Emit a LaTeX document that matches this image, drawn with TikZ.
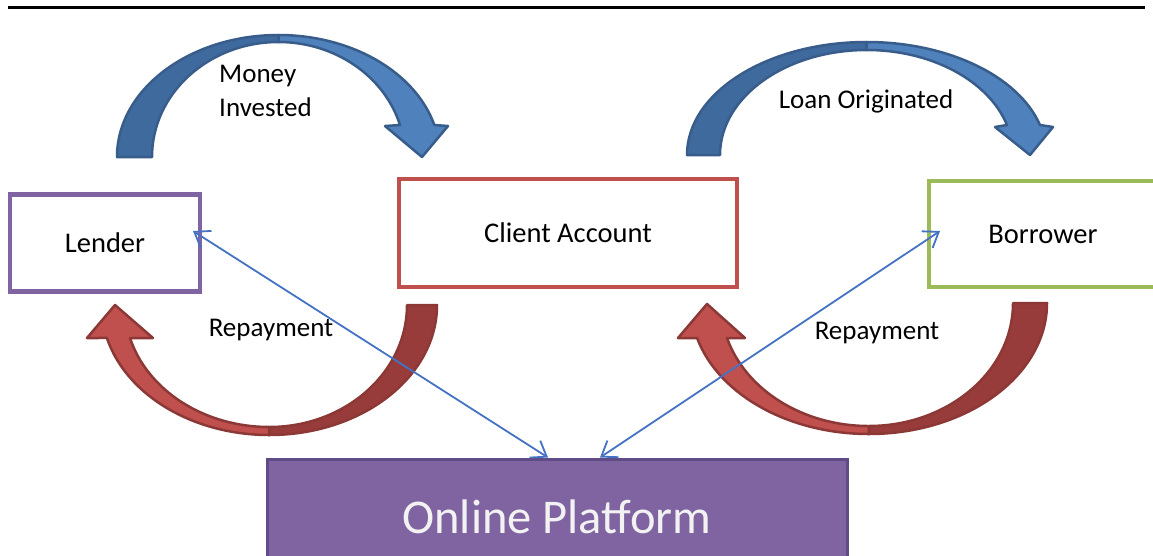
\documentclass[tikz,border=0pt]{standalone}
\usepackage{fontspec}
\setmainfont{Carlito}
\usetikzlibrary{arrows.meta}
\definecolor{bluefill}{HTML}{4F81BD}
\definecolor{bluedark}{HTML}{3F6A9E}
\definecolor{blueline}{HTML}{385D8A}
\definecolor{redfill}{HTML}{C0504D}
\definecolor{reddark}{HTML}{973C3A}
\definecolor{redline}{HTML}{8C3836}
\definecolor{purp}{HTML}{8064A2}
\definecolor{purpdark}{HTML}{5F4B86}
\definecolor{grn}{HTML}{9BBB59}
\definecolor{conn}{HTML}{4472C4}
\definecolor{ptext}{HTML}{F2F2F2}
\begin{document}
\begin{tikzpicture}[x=1pt,y=1pt,
  box/.style={draw, line width=4.5pt, fill=white, font=\fontsize{28.5}{34}\selectfont, inner sep=0pt},
  lbl/.style={font=\fontsize{27}{34}\selectfont, inner sep=0pt, align=left},
  bluepart/.style={draw=blueline, line width=2.5pt, line join=round},
  redpart/.style={draw=redline, line width=2.5pt, line join=round},
  link/.style={draw=conn, line width=1.8pt, {Straight Barb[length=14pt,width=20pt]}-{Straight Barb[length=14pt,width=20pt]}}
]
\useasboundingbox (0,0) rectangle (1153,-555);
\clip (0,0) rectangle (1153,-555);
\fill[white] (0,0) rectangle (1153,-555);
% top rule
\draw[line width=3pt] (8,-7) -- (1145,-7);
% blue curved arrow, left
\path[bluepart, fill=bluedark] (117,-157) arc[start angle=180,end angle=90,x radius=161.5,y radius=122] -- (278.5,-42) arc[start angle=90,end angle=180,x radius=126.5,y radius=115] -- cycle;
\path[bluepart, fill=bluefill] (278.5,-35) arc[start angle=90,end angle=15.2,x radius=161.5,y radius=122] -- (448,-126) -- (422,-157) -- (385,-126) -- (400,-125) arc[start angle=16.16,end angle=90,x radius=126.5,y radius=115] -- cycle;
% blue curved arrow, right
\path[bluepart, fill=bluedark] (687,-155) arc[start angle=180,end angle=90,x radius=179.7,y radius=113] -- (866.7,-50) arc[start angle=90,end angle=180,x radius=146.7,y radius=105] -- cycle;
\path[bluepart, fill=bluefill] (866.7,-42) arc[start angle=90,end angle=15.4,x radius=179.7,y radius=113] -- (1053,-127) -- (1030,-155) -- (995,-127) -- (1007,-125) arc[start angle=16.6,end angle=90,x radius=146.4,y radius=105] -- cycle;
% red curved arrow, left
\path[redpart, fill=reddark] (437,-305) arc[start angle=0,end angle=-90,x radius=167.8,y radius=130] -- (269.2,-427) arc[start angle=-90,end angle=0,x radius=137.8,y radius=122] -- cycle;
\path[redpart, fill=redfill] (269.2,-435) arc[start angle=-90,end angle=-165.3,x radius=167.8,y radius=130] -- (87,-338) -- (115,-305) -- (153,-338) -- (130,-338) arc[start angle=-164.3,end angle=-90,x radius=144.5,y radius=122] -- cycle;
% red curved arrow, right
\path[redpart, fill=reddark] (1047,-303) arc[start angle=0,end angle=-90,x radius=178.2,y radius=131] -- (868.8,-426) arc[start angle=-90,end angle=0,x radius=144.2,y radius=123] -- cycle;
\path[redpart, fill=redfill] (868.8,-434) arc[start angle=-90,end angle=-164.5,x radius=178.2,y radius=131] -- (678,-338) -- (707,-304) -- (745,-338) -- (727,-338) arc[start angle=-163.47,end angle=-90,x radius=147.9,y radius=123] -- cycle;
% boxes
\node[box, draw=purp, minimum width=190pt, minimum height=97pt] (lender) at (105,-243) {Lender};
\node[box, draw=redfill, minimum width=338pt, minimum height=108pt] (client) at (568,-233) {Client Account};
\node[box, draw=grn, minimum width=228pt, minimum height=106pt] (borrower) at (1043,-234) {Borrower};
\node[draw=purpdark, line width=3pt, fill=purp, text=ptext, minimum width=580pt, minimum height=116pt, inner sep=0pt, font=\fontsize{48.5}{58}\selectfont] (platform) at (557,-517) {Online Platform};
% labels
\node[lbl] (money) at (265.5,-91) {Money\\Invested};
\node[lbl] (loan) at (866,-101) {Loan Originated};
\node[lbl] (rep1) at (271,-330) {Repayment};
\node[lbl] (rep2) at (877,-333) {Repayment};
% connectors
\draw[link] ([xshift=-9.25pt,yshift=12pt]lender.east) -- ([xshift=-9pt]platform.north);
\draw[link] ([xshift=13.25pt,yshift=3pt]borrower.west) -- ([xshift=43pt]platform.north);
\end{tikzpicture}
\end{document}
